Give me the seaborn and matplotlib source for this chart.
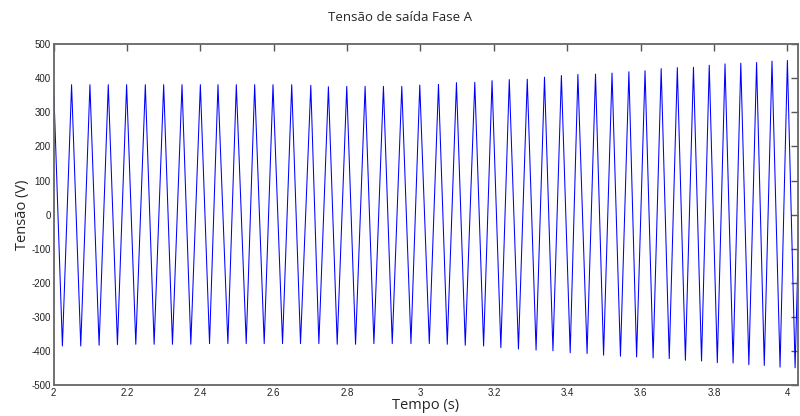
import pandas as pd
import seaborn as sns
import matplotlib.pyplot as plt

# positive peaks (time in s, voltage in V)
peak_t = [2.000, 2.049, 2.099, 2.149, 2.199, 2.250, 2.300, 2.350, 2.400, 2.448,
          2.498, 2.548, 2.598, 2.649, 2.701, 2.749, 2.799, 2.849, 2.899, 2.949,
          2.998, 3.049, 3.098, 3.148, 3.195, 3.242, 3.291, 3.338, 3.384, 3.429,
          3.477, 3.522, 3.568, 3.612, 3.656, 3.700, 3.744, 3.787, 3.830, 3.873,
          3.916, 3.958, 4.000, 4.043]
peak_v = [381, 381, 381, 381, 381, 381, 381, 381, 381, 381,
          381, 381, 381, 381, 379, 375, 376, 376, 376, 376,
          380, 382, 387, 388, 393, 396, 397, 403, 408, 411,
          412, 415, 419, 422, 428, 431, 432, 438, 442, 444,
          446, 450, 452, 455]

# negative peaks
trough_t = [2.024, 2.074, 2.124, 2.174, 2.224, 2.274, 2.324, 2.374, 2.425, 2.475,
            2.525, 2.574, 2.624, 2.673, 2.723, 2.773, 2.823, 2.873, 2.923, 2.974,
            3.024, 3.073, 3.122, 3.172, 3.219, 3.267, 3.315, 3.361, 3.408, 3.454,
            3.499, 3.545, 3.589, 3.634, 3.678, 3.722, 3.766, 3.809, 3.852, 3.895,
            3.937, 3.980, 4.021]
trough_v = [-385, -385, -383, -381, -380, -380, -380, -380, -378, -378,
            -378, -378, -378, -378, -378, -380, -380, -378, -378, -378,
            -378, -380, -383, -385, -390, -394, -397, -399, -405, -407,
            -412, -415, -417, -420, -422, -427, -429, -434, -435, -440,
            -442, -447, -449]

x_ticks = [2, 2.2, 2.4, 2.6, 2.8, 3, 3.2, 3.4, 3.6, 3.8, 4]
x_labels = ["2", "2.2", "2.4", "2.6", "2.8", "3", "3.2", "3.4", "3.6", "3.8", "4"]
y_ticks = [-500, -400, -300, -200, -100, 0, 100, 200, 300, 400, 500]

sns.set_style("white")
plt.rcParams['font.family'] = ['Open Sans', 'DejaVu Sans']
plt.rcParams['axes.unicode_minus'] = False

df = pd.DataFrame({"t": peak_t + trough_t, "v": peak_v + trough_v}).sort_values("t")

fig = plt.figure(figsize=(8, 4.16), dpi=100)
ax = fig.add_axes([0.067, 0.074, 0.931, 0.82])
sns.lineplot(data=df, x="t", y="v", sort=False, estimator=None,
             color="blue", lw=0.75, ax=ax)

ax.set_xlim(2, 4.03)
ax.set_ylim(-500, 500)
ax.set_xticks(x_ticks)
ax.set_xticklabels(x_labels)
ax.set_yticks(y_ticks)
ax.tick_params(direction="in", length=5, width=1, top=True, right=True,
               labelsize=7, color="#555555", labelcolor="#222222", pad=2)
for lbl in ax.get_xticklabels() + ax.get_yticklabels():
    lbl.set_family(["Liberation Sans", "DejaVu Sans"])
for s in ax.spines.values():
    s.set_color("#666666")
    s.set_linewidth(1.3)

ax.set_xlabel("Tempo (s)", fontsize=10.5, labelpad=0)
ax.set_ylabel("Tensão (V)", fontsize=10.5, labelpad=1)
fig.text(0.5, 0.958, "Tensão de saída Fase A", ha="center", va="center", fontsize=9.5)

fig.savefig("out.png", dpi=100)
